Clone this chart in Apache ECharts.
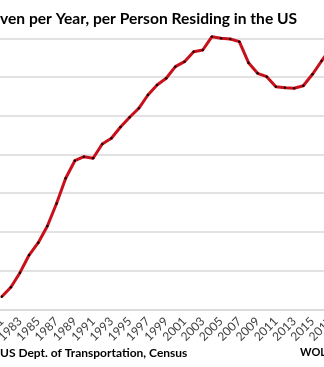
<!DOCTYPE html>
<html>
<head>
<meta charset="utf-8">
<script src="https://cdn.jsdelivr.net/npm/echarts@6/dist/echarts.min.js"></script>
<style>
html,body{margin:0;padding:0;background:#fff;}
#chart{width:324px;height:367px;}
</style>
</head>
<body>
<div id="chart"></div>
<script>
const years = ['1981','1982','1983','1984','1985','1986','1987','1988','1989','1990',
  '1991','1992','1993','1994','1995','1996','1997','1998','1999','2000',
  '2001','2002','2003','2004','2005','2006','2007','2008','2009','2010',
  '2011','2012','2013','2014','2015','2016','2017'];
const milesPerPerson = [6663, 6784, 6973, 7201, 7360, 7576, 7867, 8192, 8419, 8471,
  8450, 8635, 8709, 8855, 8980, 9096, 9268, 9397, 9484, 9634,
  9698, 9827, 9849, 10021, 10000, 9991, 9957, 9685, 9548, 9504,
  9375, 9362, 9355, 9388, 9535, 9707, 9870];
const yTicks = [6500, 7000, 7500, 8000, 8500, 9000, 9500, 10000];
const titleText = 'ven per Year, per Person Residing in the US';
const sourceText = 'US Dept. of Transportation, Census';
const brandText = 'WOL';

const chart = echarts.init(document.getElementById('chart'), null, {renderer: 'canvas'});
chart.setOption({
  backgroundColor: '#ffffff',
  animation: false,
  title: {
    text: titleText,
    left: 0,
    top: 11,
    padding: 0,
    textStyle: {fontFamily: 'Lato', fontWeight: 'bold', fontSize: 15.6, color: '#000'}
  },
  grid: {left: -2.87, right: -11.3, top: 38.3, bottom: 57.7, containLabel: false, outerBoundsMode: 'none'},
  xAxis: {
    type: 'category',
    data: years,
    boundaryGap: true,
    axisLine: {show: true, lineStyle: {color: '#d9d9d9', width: 1.5}},
    axisTick: {show: false},
    axisLabel: {
      interval: 1,
      rotate: 45,
      margin: 10,
      fontFamily: 'Lato',
      fontSize: 12,
      color: '#404040'
    },
    splitLine: {show: false}
  },
  yAxis: {
    type: 'value',
    min: yTicks[0],
    max: yTicks[yTicks.length - 1],
    interval: 500,
    axisLine: {show: false},
    axisTick: {show: false},
    axisLabel: {show: false},
    splitLine: {show: true, lineStyle: {color: '#d9d9d9', width: 1.5}}
  },
  graphic: [
    {type: 'text', left: 0, top: 347, style: {text: sourceText, font: 'bold 12px Lato', fill: '#000'}},
    {type: 'text', left: 300, top: 347, style: {text: brandText, font: 'bold 11px Lato', fill: '#000'}}
  ],
  series: [{
    type: 'line',
    data: milesPerPerson,
    clip: false,
    symbol: 'circle',
    symbolSize: 2.5,
    showSymbol: true,
    itemStyle: {color: '#1a0000', borderWidth: 0},
    lineStyle: {color: '#c8101a', width: 3}
  }]
});
</script>
</body>
</html>
